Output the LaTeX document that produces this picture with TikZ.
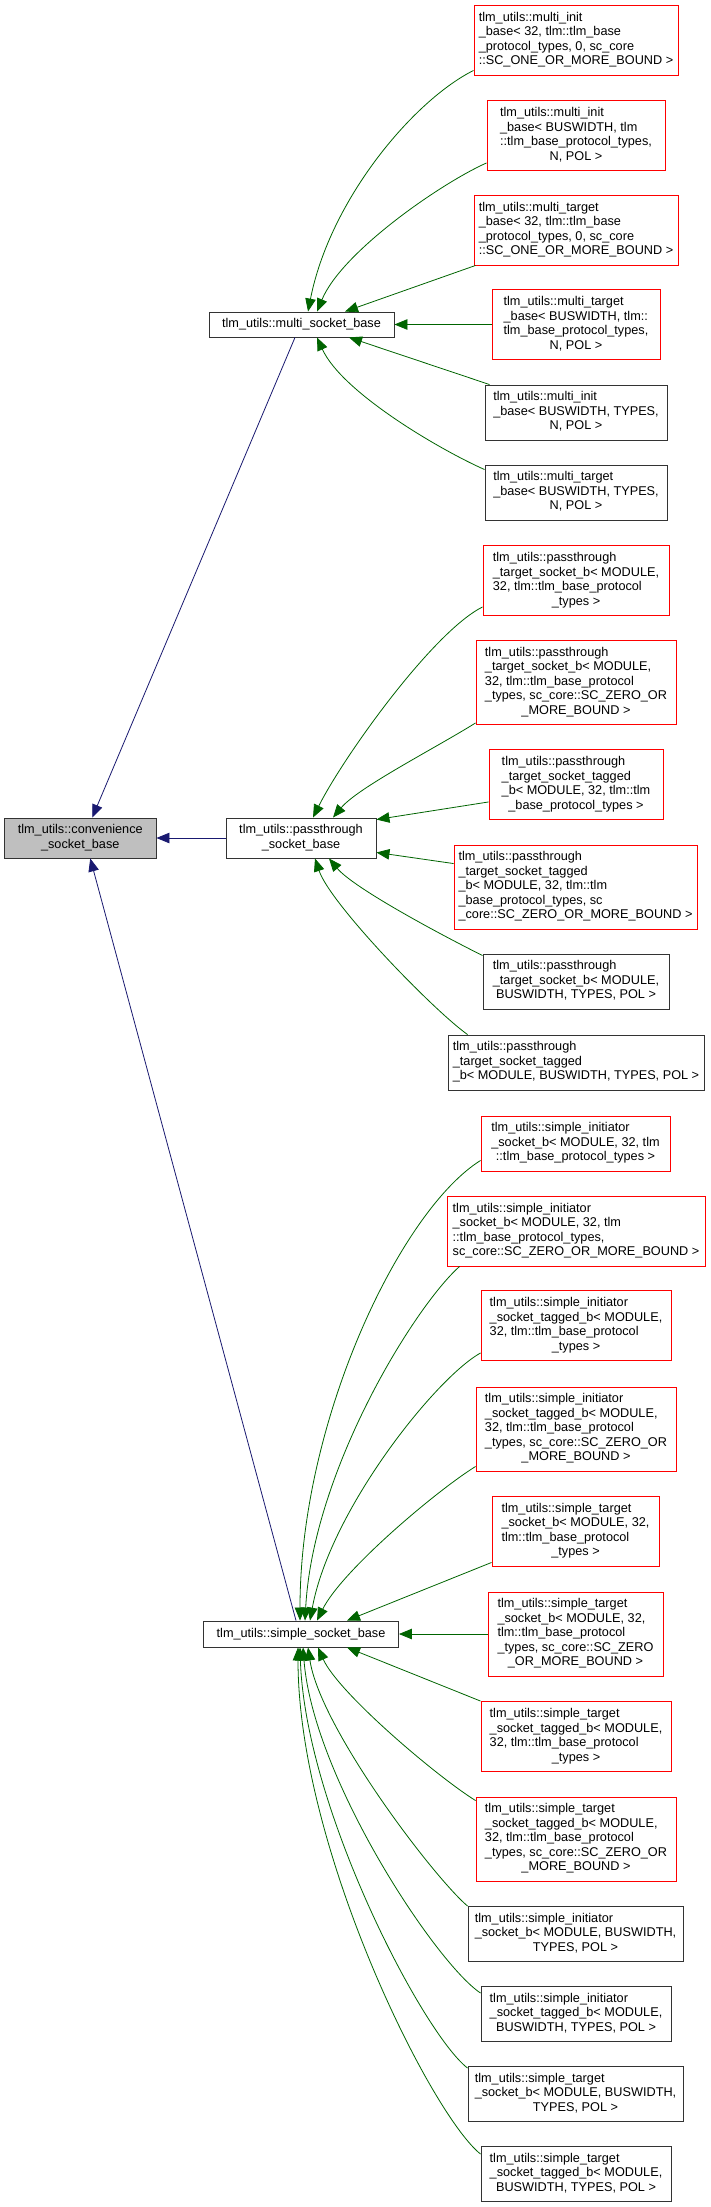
\documentclass[tikz,border=0pt]{standalone}
\usepackage{fontspec}
\setmainfont{Liberation Sans}
\usetikzlibrary{arrows.meta}
\definecolor{gcol}{HTML}{006400}
\definecolor{bcol}{HTML}{191970}
\definecolor{rootfill}{HTML}{BFBFBF}
\newcommand{\lns}[2]{\begin{tabular}{@{}l@{}}#1\\\multicolumn{1}{@{}c@{}}{#2}\end{tabular}}
\tikzset{
  box/.style={draw=black!80, line width=0.9pt, fill=white, inner sep=0pt, text=black,
    font=\fontsize{12.7}{14.5}\selectfont},
  rbox/.style={box, draw=red},
  wh/.style 2 args={minimum width=#1pt, minimum height=#2pt},
  gedge/.style={draw=gcol, line width=0.8pt, -{Triangle[length=13pt,width=10.5pt]}},
  bedge/.style={draw=bcol, line width=0.8pt, -{Triangle[length=13pt,width=10.5pt]}},
}
\begin{document}
\begin{tikzpicture}[x=1pt,y=1pt]
\useasboundingbox (0,0) rectangle (711,-2207);
\fill[white] (0,0) rectangle (711,-2207);

% core nodes
\node[box, fill=rootfill, wh={151.5}{40}] (R) at (80.25,-838) {\lns{tlm\_utils::convenience}{\_socket\_base}};
\node[box, wh={185}{25}] (MS) at (301.5,-324.5) {tlm\_utils::multi\_socket\_base};
\node[box, wh={150}{40}] (PS) at (301,-838) {\lns{tlm\_utils::passthrough}{\_socket\_base}};
\node[box, wh={195}{26}] (SS) at (301,-1634) {tlm\_utils::simple\_socket\_base};

% multi children
\node[rbox, wh={204}{70}] (M1) at (576,-40) {\lns{tlm\_utils::multi\_init\\\_base< 32, tlm::tlm\_base\\\_protocol\_types, 0, sc\_core}{::SC\_ONE\_OR\_MORE\_BOUND >}};
\node[rbox, wh={178}{70}] (M2) at (576,-135.5) {\lns{tlm\_utils::multi\_init\\\_base< BUSWIDTH, tlm\\::tlm\_base\_protocol\_types,}{N, POL >}};
\node[rbox, wh={204}{70}] (M3) at (576,-230) {\lns{tlm\_utils::multi\_target\\\_base< 32, tlm::tlm\_base\\\_protocol\_types, 0, sc\_core}{::SC\_ONE\_OR\_MORE\_BOUND >}};
\node[rbox, wh={168}{70}] (M4) at (576,-324.5) {\lns{tlm\_utils::multi\_target\\\_base< BUSWIDTH, tlm::\\tlm\_base\_protocol\_types,}{N, POL >}};
\node[box, wh={182}{55}] (M5) at (576,-412.5) {\lns{tlm\_utils::multi\_init\\\_base< BUSWIDTH, TYPES,}{N, POL >}};
\node[box, wh={182}{55}] (M6) at (576,-492.5) {\lns{tlm\_utils::multi\_target\\\_base< BUSWIDTH, TYPES,}{N, POL >}};

% passthrough children
\node[rbox, wh={186}{70}] (P1) at (576,-580.5) {\lns{tlm\_utils::passthrough\\\_target\_socket\_b< MODULE,\\32, tlm::tlm\_base\_protocol}{\_types >}};
\node[rbox, wh={200}{84}] (P2) at (576,-682.5) {\lns{tlm\_utils::passthrough\\\_target\_socket\_b< MODULE,\\32, tlm::tlm\_base\_protocol\\\_types, sc\_core::SC\_ZERO\_OR}{\_MORE\_BOUND >}};
\node[rbox, wh={174}{70}] (P3) at (576,-784.5) {\lns{tlm\_utils::passthrough\\\_target\_socket\_tagged\\\_b< MODULE, 32, tlm::tlm}{\_base\_protocol\_types >}};
\node[rbox, wh={243}{84}] (P4) at (575.5,-887) {\lns{tlm\_utils::passthrough\\\_target\_socket\_tagged\\\_b< MODULE, 32, tlm::tlm\\\_base\_protocol\_types, sc}{\_core::SC\_ZERO\_OR\_MORE\_BOUND >}};
\node[box, wh={186}{55}] (P5) at (576,-981.5) {\lns{tlm\_utils::passthrough\\\_target\_socket\_b< MODULE,}{BUSWIDTH, TYPES, POL >}};
\node[box, wh={256}{55}] (P6) at (576,-1062.5) {\lns{tlm\_utils::passthrough\\\_target\_socket\_tagged}{\_b< MODULE, BUSWIDTH, TYPES, POL >}};

% simple children
\node[rbox, wh={189}{55}] (S1) at (575.5,-1143.5) {\lns{tlm\_utils::simple\_initiator\\\_socket\_b< MODULE, 32, tlm}{::tlm\_base\_protocol\_types >}};
\node[rbox, wh={258}{70}] (S2) at (576,-1231) {\lns{tlm\_utils::simple\_initiator\\\_socket\_b< MODULE, 32, tlm\\::tlm\_base\_protocol\_types,}{sc\_core::SC\_ZERO\_OR\_MORE\_BOUND >}};
\node[rbox, wh={190}{70}] (S3) at (576,-1325.5) {\lns{tlm\_utils::simple\_initiator\\\_socket\_tagged\_b< MODULE,\\32, tlm::tlm\_base\_protocol}{\_types >}};
\node[rbox, wh={200}{84}] (S4) at (576,-1429) {\lns{tlm\_utils::simple\_initiator\\\_socket\_tagged\_b< MODULE,\\32, tlm::tlm\_base\_protocol\\\_types, sc\_core::SC\_ZERO\_OR}{\_MORE\_BOUND >}};
\node[rbox, wh={167}{70}] (S5) at (575.5,-1531) {\lns{tlm\_utils::simple\_target\\\_socket\_b< MODULE, 32,\\tlm::tlm\_base\_protocol}{\_types >}};
\node[rbox, wh={175}{84}] (S6) at (575.5,-1634) {\lns{tlm\_utils::simple\_target\\\_socket\_b< MODULE, 32,\\tlm::tlm\_base\_protocol\\\_types, sc\_core::SC\_ZERO}{\_OR\_MORE\_BOUND >}};
\node[rbox, wh={190}{70}] (S7) at (576,-1736.5) {\lns{tlm\_utils::simple\_target\\\_socket\_tagged\_b< MODULE,\\32, tlm::tlm\_base\_protocol}{\_types >}};
\node[rbox, wh={200}{84}] (S8) at (576,-1839) {\lns{tlm\_utils::simple\_target\\\_socket\_tagged\_b< MODULE,\\32, tlm::tlm\_base\_protocol\\\_types, sc\_core::SC\_ZERO\_OR}{\_MORE\_BOUND >}};
\node[box, wh={215}{55}] (S9) at (575.5,-1934) {\lns{tlm\_utils::simple\_initiator\\\_socket\_b< MODULE, BUSWIDTH,}{TYPES, POL >}};
\node[box, wh={190}{55}] (S10) at (576,-2014) {\lns{tlm\_utils::simple\_initiator\\\_socket\_tagged\_b< MODULE,}{BUSWIDTH, TYPES, POL >}};
\node[box, wh={215}{55}] (S11) at (575.5,-2094) {\lns{tlm\_utils::simple\_target\\\_socket\_b< MODULE, BUSWIDTH,}{TYPES, POL >}};
\node[box, wh={190}{55}] (S12) at (576,-2174) {\lns{tlm\_utils::simple\_target\\\_socket\_tagged\_b< MODULE,}{BUSWIDTH, TYPES, POL >}};

% blue edges to root
\draw[bedge] ([xshift=-6.5]MS.south) -- ([xshift=12]R.north);
\draw[bedge] (PS.west) -- (R.east);
\draw[bedge] ([xshift=-5]SS.north) -- ([xshift=10]R.south);

% green edges to multi_socket_base
\draw[gedge] ([yshift=5]M1.south west) .. controls +(-60,-30) and +(22,112) .. ([xshift=6.5]MS.north);
\draw[gedge] ([yshift=8]M2.south west) .. controls +(-45,-20) and +(25,60) .. ([xshift=15.5]MS.north);
\draw[gedge] ([xshift=2]M3.south west) -- ([xshift=43.5]MS.north);
\draw[gedge] (M4.west) -- (MS.east);
\draw[gedge] ([xshift=5]M5.north west) -- ([xshift=47.5]MS.south);
\draw[gedge] ([yshift=-5]M6.north west) .. controls +(-45,20) and +(25,-55) .. ([xshift=15.5]MS.south);

% green edges to passthrough_socket_base
\draw[gedge] ([yshift=9]P1.south west) .. controls +(-50,-25) and +(30,60) .. ([xshift=12]PS.north);
\draw[gedge] ([yshift=2]P2.south west) .. controls +(-40,-25) and +(25,30) .. ([xshift=32]PS.north);
\draw[gedge] ([yshift=18]P3.south west) -- ([yshift=-2]PS.north east);
\draw[gedge] ([yshift=-19]P4.north west) -- ([yshift=6]PS.south east);
\draw[gedge] ([yshift=-2]P5.north west) .. controls +(-40,20) and +(25,-30) .. ([xshift=28]PS.south);
\draw[gedge] ([xshift=20]P6.north west) .. controls +(-35,25) and +(15,-45) .. ([xshift=14]PS.south);

% green edges to simple_socket_base
\draw[gedge] ([yshift=11]S1.south west) .. controls +(-80,-50) and +(0,200) .. ([xshift=-1]SS.north);
\draw[gedge] ([xshift=13]S2.south west) .. controls +(-45,-40) and +(8,150) .. ([xshift=4]SS.north);
\draw[gedge] ([yshift=8]S3.south west) .. controls +(-45,-25) and +(20,110) .. ([xshift=9]SS.north);
\draw[gedge] ([yshift=5]S4.south west) .. controls +(-40,-25) and +(25,50) .. ([xshift=16]SS.north);
\draw[gedge] ([yshift=4]S5.south west) -- ([xshift=46]SS.north);
\draw[gedge] (S6.west) -- (SS.east);
\draw[gedge] (S7.north west) -- ([xshift=46]SS.south);
\draw[gedge] ([yshift=-4]S8.north west) .. controls +(-40,25) and +(20,-45) .. ([xshift=17]SS.south);
\draw[gedge] (S9.north west) .. controls +(-35,30) and +(12,-80) .. ([xshift=7]SS.south);
\draw[gedge] ([yshift=-7]S10.north west) .. controls +(-45,30) and +(10,-130) .. ([xshift=2]SS.south);
\draw[gedge] ([yshift=-2]S11.north west) .. controls +(-45,35) and +(5,-160) .. ([xshift=-1]SS.south);
\draw[gedge] ([yshift=-8]S12.north west) .. controls +(-50,40) and +(0,-200) .. ([xshift=-3]SS.south);
\end{tikzpicture}
\end{document}
